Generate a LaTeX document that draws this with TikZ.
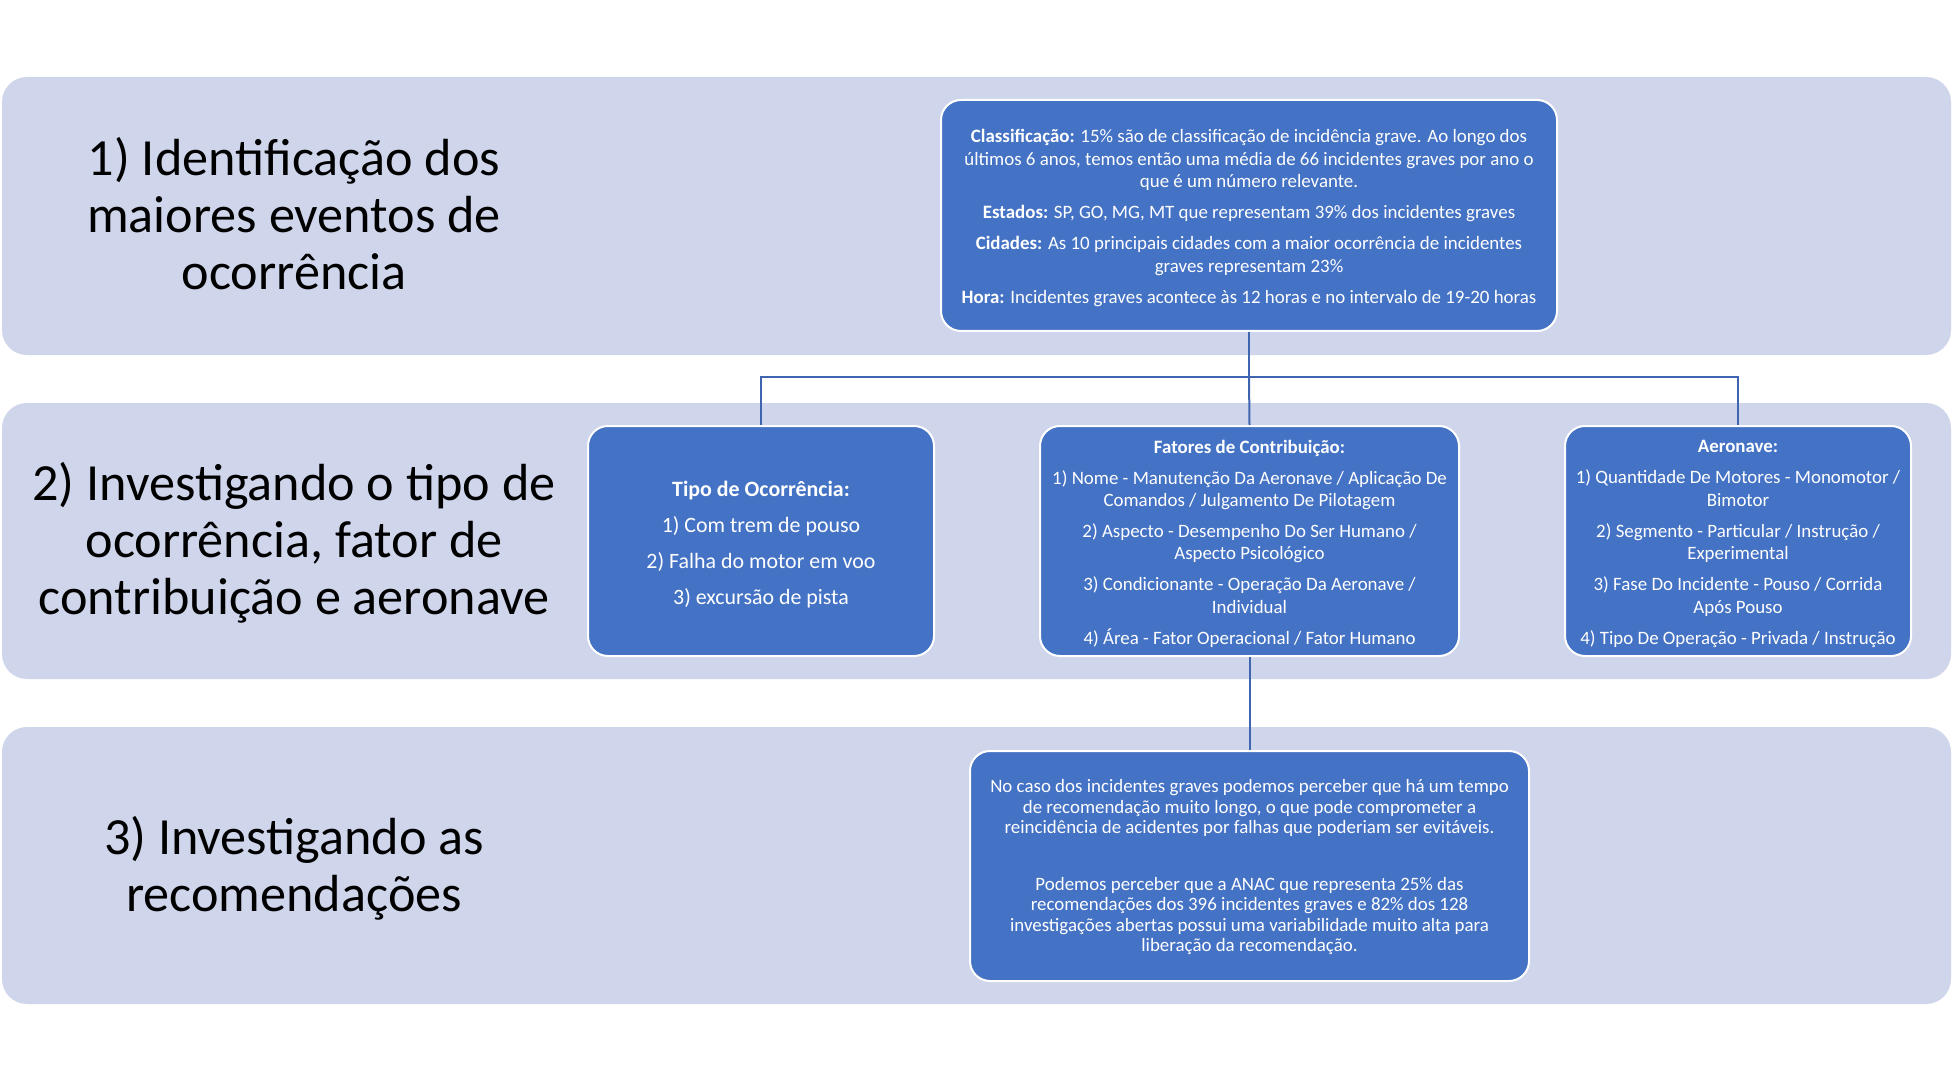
\documentclass[tikz,border=0pt]{standalone}
\usepackage{fontspec}
\setmainfont{Carlito}
\definecolor{bandc}{HTML}{CFD5EA}
\definecolor{boxc}{HTML}{4472C4}
\definecolor{linec}{HTML}{3F64B0}
\begin{document}
\begin{tikzpicture}[x=1pt,y=-1pt,
  band/.style={fill=bandc,draw=none,rounded corners=25pt,inner sep=0pt,minimum width=1949pt},
  bandlabel/.style={align=center,inner sep=0pt,font=\fontsize{52.2}{57}\selectfont,text=black},
  infobox/.style={fill=boxc,draw=white,line width=2pt,rounded corners=20pt,inner sep=0pt},
  boxtext/.style={inner sep=0pt,text=white,align=center,font=\fontsize{18.9}{22.4}\selectfont},
  conn/.style={draw=linec,line width=2pt}]
\useasboundingbox (0,0) rectangle (1952,1083);
\fill[white] (0,0) rectangle (1952,1083);
% bands
\node[band,minimum height=278pt] (b1) at (976.5,216) {};
\node[band,minimum height=276pt] (b2) at (976.5,541) {};
\node[band,minimum height=277pt] (b3) at (976.5,865.5) {};
% band labels
\node[bandlabel] (l1) at (294,214) {1) Identificação dos\\maiores eventos de\\ocorrência};
\node[bandlabel] (l2) at (294,543) {2) Investigando o tipo de\\ocorrência, fator de\\contribuição e aeronave};
\node[bandlabel] (l3) at (294,868) {3) Investigando as\\recomendações};
% boxes
\node[infobox,minimum width=616pt,minimum height=231pt] (top) at (1249,215.5) {};
\node[infobox,minimum width=346pt,minimum height=230pt] (tipo) at (761,541) {};
\node[infobox,minimum width=419pt,minimum height=230pt] (fat) at (1249.5,541) {};
\node[infobox,minimum width=346pt,minimum height=230pt] (aer) at (1738,541) {};
\node[infobox,minimum width=559pt,minimum height=230pt] (rec) at (1249.5,866) {};
% box texts
\node[boxtext] (toptext) at ([yshift=-2.5pt]top.center)
 {\textbf{Classificação:} 15\% são de classificação de incidência grave. Ao longo dos\\
  últimos 6 anos, temos então uma média de 66 incidentes graves por ano o\\
  que é um número relevante.\\[8.6pt]
  \textbf{Estados:} SP, GO, MG, MT que representam 39\% dos incidentes graves\\[8.6pt]
  \textbf{Cidades:} As 10 principais cidades com a maior ocorrência de incidentes\\
  graves representam 23\%\\[8.6pt]
  \textbf{Hora:} Incidentes graves acontece às 12 horas e no intervalo de 19-20 horas};
\node[boxtext,font=\fontsize{21.9}{36}\selectfont] (tipotext) at ([yshift=-3.5pt]tipo.center)
 {\textbf{Tipo de Ocorrência:}\\
  1) Com trem de pouso\\
  2) Falha do motor em voo\\
  3) excursão de pista};
\node[boxtext] (fattext) at ([yshift=-2.5pt]fat.center)
 {\textbf{Fatores de Contribuição:}\\[8.6pt]
  1) Nome - Manutenção Da Aeronave / Aplicação De\\
  Comandos / Julgamento De Pilotagem\\[8.6pt]
  2) Aspecto - Desempenho Do Ser Humano /\\
  Aspecto Psicológico\\[8.6pt]
  3) Condicionante - Operação Da Aeronave /\\
  Individual\\[8.6pt]
  4) Área - Fator Operacional / Fator Humano};
\node[boxtext] (aertext) at ([yshift=-3pt]aer.center)
 {\textbf{Aeronave:}\\[8.6pt]
  1) Quantidade De Motores - Monomotor /\\
  Bimotor\\[8.6pt]
  2) Segmento - Particular / Instrução /\\
  Experimental\\[8.6pt]
  3) Fase Do Incidente - Pouso / Corrida\\
  Após Pouso\\[8.6pt]
  4) Tipo De Operação - Privada / Instrução};
\node[boxtext,font=\fontsize{18.9}{20.5}\selectfont] (rectext) at ([yshift=-1.5pt]rec.center)
 {No caso dos incidentes graves podemos perceber que há um tempo\\
  de recomendação muito longo, o que pode comprometer a\\
  reincidência de acidentes por falhas que poderiam ser evitáveis.\\[36pt]
  Podemos perceber que a ANAC que representa 25\% das\\
  recomendações dos 396 incidentes graves e 82\% dos 128\\
  investigações abertas possui uma variabilidade muito alta para\\
  liberação da recomendação.};
% connectors
\coordinate (hub) at (1249,377);
\draw[conn] (top.south) -- (hub);
\draw[conn] (tipo.north) |- (hub) -| (aer.north);
\draw[conn] (hub) -- (fat.north);
\draw[conn] (fat.south) -- (rec.north);
\end{tikzpicture}
\end{document}
